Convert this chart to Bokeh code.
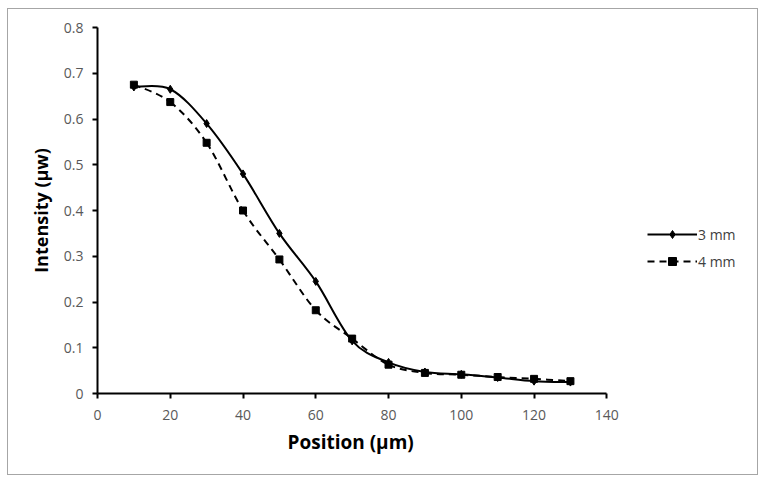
from bokeh.plotting import figure
from bokeh.models import FixedTicker, Legend, LegendItem, Range1d, Title
from bokeh.embed import file_html
from bokeh.resources import INLINE

# data
position = [10, 20, 30, 40, 50, 60, 70, 80, 90, 100, 110, 120, 130]
intensity_3mm = [0.670, 0.665, 0.590, 0.480, 0.350, 0.245, 0.115, 0.068, 0.047, 0.042, 0.035, 0.027, 0.025]
intensity_4mm = [0.675, 0.637, 0.548, 0.400, 0.293, 0.182, 0.120, 0.063, 0.045, 0.041, 0.036, 0.032, 0.027]
series_names = ["3 mm", "4 mm"]
x_ticks = [0, 20, 40, 60, 80, 100, 120, 140]
y_ticks = [0, 0.1, 0.2, 0.3, 0.4, 0.5, 0.6, 0.7, 0.8]
y_tick_labels = ["0", "0.1", "0.2", "0.3", "0.4", "0.5", "0.6", "0.7", "0.8"]
x_axis_end = 140
x_title = "Position (µm)"
y_title = "Intensity (µw)"

FONT = "Open Sans"

# layout (pixels)
W, H = 751, 467
BORDER = 1.5
LEFT, TOP, BOTTOM = 89, 18, 83
AXIS_PX = 507          # pixel length of the 0..140 axis
frame_w = W - 2 * BORDER - LEFT
x_view_end = x_axis_end * frame_w / AXIS_PX

p = figure(width=W, height=H, output_backend="svg", toolbar_location=None,
           x_range=Range1d(0, x_view_end), y_range=Range1d(0, 0.8),
           min_border_left=LEFT, min_border_right=0, min_border_top=TOP, min_border_bottom=BOTTOM)
p.styles = {"border": f"{BORDER}px solid #a6a6a6", "box-sizing": "border-box",
            "margin-left": "7px", "margin-top": "8px"}
p.outline_line_color = None
p.grid.visible = False
p.background_fill_color = "white"
p.border_fill_color = "white"

for ax in (p.xaxis[0], p.yaxis[0]):
    ax.axis_line_width = 2
    ax.axis_line_color = "black"
    ax.major_tick_line_width = 2
    ax.major_tick_line_color = "black"
    ax.major_tick_in = 0
    ax.major_tick_out = 5
    ax.minor_tick_line_color = None
    ax.major_label_text_font = FONT
    ax.major_label_text_font_size = "14px"
    ax.major_label_text_color = "#595959"
    ax.axis_label_text_font = FONT
    ax.axis_label_text_font_size = "18px"
    ax.axis_label_text_font_style = "bold"
    ax.axis_label_text_color = "black"

p.xaxis.bounds = (0, x_axis_end)
p.xaxis.ticker = FixedTicker(ticks=x_ticks)
p.yaxis.ticker = FixedTicker(ticks=y_ticks)
p.yaxis.major_label_overrides = {t: l for t, l in zip(y_ticks, y_tick_labels)}
p.yaxis.axis_label = y_title
p.xaxis.major_label_standoff = 11
p.yaxis.major_label_standoff = 9
p.yaxis.axis_label_standoff = 8

# x-axis title placed under the middle of the 0..140 axis (not under the whole frame)
p.add_layout(Title(text=x_title, align="left", offset=190,
                   text_font=FONT, text_font_size="19px", text_font_style="bold",
                   text_color="black", standoff=8), "below")


def smooth_segments(xs, ys):
    # Catmull-Rom style smoothing (as used by spreadsheet "smoothed line")
    n = len(xs)
    seg = dict(x0=[], y0=[], x1=[], y1=[], cx0=[], cy0=[], cx1=[], cy1=[])
    for i in range(n - 1):
        ip = max(i - 1, 0)
        inn = min(i + 2, n - 1)
        seg["x0"].append(xs[i]); seg["y0"].append(ys[i])
        seg["x1"].append(xs[i + 1]); seg["y1"].append(ys[i + 1])
        seg["cx0"].append(xs[i] + (xs[i + 1] - xs[ip]) / 6)
        seg["cy0"].append(ys[i] + (ys[i + 1] - ys[ip]) / 6)
        seg["cx1"].append(xs[i + 1] - (xs[inn] - xs[i]) / 6)
        seg["cy1"].append(ys[i + 1] - (ys[inn] - ys[i]) / 6)
    return seg


s3 = smooth_segments(position, intensity_3mm)
s4 = smooth_segments(position, intensity_4mm)

p.bezier(line_color="black", line_width=2, **s4, line_dash="7 5")
m4 = p.scatter(position, intensity_4mm, marker="square", size=7, color="black")
p.bezier(line_color="black", line_width=2, **s3)
m3 = p.scatter(position, intensity_3mm, marker="diamond", size=8, color="black")

# legend line proxies (single NaN point: nothing is drawn)
nan = float("nan")
l3 = p.line([nan], [nan], line_color="black", line_width=2)
l4 = p.line([nan], [nan], line_color="black", line_width=2, line_dash="7 5")

legend = Legend(items=[LegendItem(label=series_names[0], renderers=[l3, m3]),
                       LegendItem(label=series_names[1], renderers=[l4, m4])],
                location=(550, 122), glyph_width=50, glyph_height=20, spacing=7,
                label_standoff=1, padding=0, margin=0, border_line_color=None,
                background_fill_alpha=0, label_text_font=FONT, label_text_font_size="14px",
                label_text_color="#404040", label_height=20)
p.add_layout(legend, "center")

open("out.html", "w").write(file_html(p, INLINE))
